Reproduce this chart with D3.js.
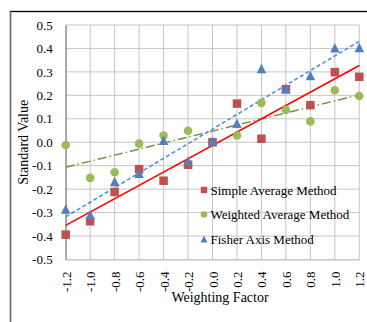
<!DOCTYPE html>
<html>
<head>
<meta charset="utf-8">
<script src="https://cdn.jsdelivr.net/npm/d3@7/dist/d3.min.js"></script>
<style>
  html, body { margin: 0; padding: 0; background: #fff; }
  svg { display: block; }
  text { font-family: "Liberation Serif", "DejaVu Serif", serif; fill: #000; }
</style>
</head>
<body>
<svg id="chart" width="367" height="322"></svg>
<script>
// Weighting factors on the x axis
const weightingFactors = [-1.2, -1.0, -0.8, -0.6, -0.4, -0.2, 0.0, 0.2, 0.4, 0.6, 0.8, 1.0, 1.2];

// Standard values for each method
const simpleAverage   = [-0.394, -0.337, -0.212, -0.115, -0.164, -0.096, 0.000, 0.165, 0.015, 0.226, 0.158, 0.299, 0.279];
const weightedAverage = [-0.012, -0.152, -0.128, -0.006, 0.029, 0.049, 0.000, 0.029, 0.168, 0.138, 0.089, 0.222, 0.197];
const fisherAxis      = [-0.287, -0.311, -0.169, -0.134, 0.006, -0.082, 0.003, 0.079, 0.313, 0.226, 0.283, 0.401, 0.402];

// Axis ticks
const xTicks = [-1.2, -1.0, -0.8, -0.6, -0.4, -0.2, 0.0, 0.2, 0.4, 0.6, 0.8, 1.0, 1.2];
const yTicks = [-0.5, -0.4, -0.3, -0.2, -0.1, 0.0, 0.1, 0.2, 0.3, 0.4, 0.5];

const seriesNames = ["Simple Average Method", "Weighted Average Method", "Fisher Axis Method"];

const svg = d3.select("#chart");
const serif = '"Liberation Serif", "DejaVu Serif", serif';

// Chart area frame
svg.append("rect")
  .attr("x", 10.5).attr("y", 11.5)
  .attr("width", 400).attr("height", 400)
  .attr("fill", "none").attr("stroke", "#000").attr("stroke-width", 1.3);
svg.append("line")
  .attr("x1", 10.5).attr("x2", 10.5).attr("y1", 11.5).attr("y2", 322)
  .attr("stroke", "#6b6b6b").attr("stroke-width", 1.3);

const plot = { left: 65.7, right: 359.3, top: 25, bottom: 259.5 };

const x = d3.scaleLinear().domain([-1.2, 1.2]).range([plot.left, plot.right]);
const y = d3.scaleLinear().domain([-0.5, 0.5]).range([plot.bottom, plot.top]);

const fmt = d => (d < 0 ? "-" : "") + Math.abs(d).toFixed(1);

// Gridlines
const grid = svg.append("g");
grid.selectAll(".hg").data(yTicks).join("line")
  .attr("x1", plot.left).attr("x2", plot.right)
  .attr("y1", d => y(d)).attr("y2", d => y(d))
  .attr("stroke", "#c6c6c6").attr("stroke-width", 1);
grid.selectAll(".vg").data(xTicks).join("line")
  .attr("x1", d => x(d)).attr("x2", d => x(d))
  .attr("y1", plot.top).attr("y2", plot.bottom)
  .attr("stroke", "#c6c6c6").attr("stroke-width", 1);

// Y axis
const yAxis = svg.append("g")
  .attr("transform", `translate(${plot.left},0)`)
  .call(d3.axisLeft(y).tickValues(yTicks).tickFormat(fmt).tickSize(0).tickPadding(13));
yAxis.select(".domain").attr("stroke", "#8c8c8c").attr("stroke-width", 1.2);
yAxis.selectAll("text")
  .style("font-family", serif)
  .style("font-size", "13px").attr("fill", "#000");

// X axis, labels rotated
const xAxis = svg.append("g")
  .attr("transform", `translate(0,${plot.bottom})`)
  .call(d3.axisBottom(x).tickValues(xTicks).tickFormat(fmt).tickSize(0));
xAxis.select(".domain").attr("stroke", "#c6c6c6").attr("stroke-width", 1);
xAxis.selectAll("text")
  .style("font-family", serif)
  .style("font-size", "13px").attr("fill", "#000")
  .attr("text-anchor", "end")
  .attr("dy", "0.35em")
  .attr("x", -12).attr("y", 0)
  .attr("transform", "rotate(-90)");

// Axis titles
svg.append("text")
  .attr("x", 220).attr("y", 302)
  .attr("text-anchor", "middle")
  .style("font-size", "14px")
  .text("Weighting Factor");
svg.append("text")
  .attr("transform", `translate(28,${(plot.top + plot.bottom) / 2}) rotate(-90)`)
  .attr("text-anchor", "middle")
  .style("font-size", "14px")
  .text("Standard Value");

// Least-squares trend line
function trend(xs, ys) {
  const n = xs.length;
  const mx = d3.mean(xs), my = d3.mean(ys);
  let sxy = 0, sxx = 0;
  for (let i = 0; i < n; i++) { sxy += (xs[i] - mx) * (ys[i] - my); sxx += (xs[i] - mx) ** 2; }
  const b = sxy / sxx, a = my - b * mx;
  const x0 = d3.min(xs), x1 = d3.max(xs);
  return [[x0, a + b * x0], [x1, a + b * x1]];
}
const line = d3.line().x(d => x(d[0])).y(d => y(d[1]));

const lines = svg.append("g");
lines.append("path").attr("d", line(trend(weightingFactors, weightedAverage)))
  .attr("fill", "none").attr("stroke", "#76923c").attr("stroke-width", 1.5)
  .attr("stroke-dasharray", "9,3,1.5,3");
lines.append("path").attr("d", line(trend(weightingFactors, fisherAxis)))
  .attr("fill", "none").attr("stroke", "#4f8fdc").attr("stroke-width", 1.6)
  .attr("stroke-dasharray", "4,2.5");
lines.append("path").attr("d", line(trend(weightingFactors, simpleAverage)))
  .attr("fill", "none").attr("stroke", "#ff0000").attr("stroke-width", 1.6);

// Markers
const sq = 8.5;
const triPath = (cx, cy, s) => `M${cx},${cy - s * 0.55}L${cx + s / 2},${cy + s * 0.45}L${cx - s / 2},${cy + s * 0.45}Z`;
const marks = svg.append("g");

marks.selectAll(".wc").data(weightingFactors).join("circle")
  .attr("cx", d => x(d)).attr("cy", (d, i) => y(weightedAverage[i]))
  .attr("r", 4.3).attr("fill", "#9bbb59");

marks.selectAll(".sa").data(weightingFactors).join("rect")
  .attr("x", d => x(d) - sq / 2).attr("y", (d, i) => y(simpleAverage[i]) - sq / 2)
  .attr("width", sq).attr("height", sq).attr("fill", "#c0504d");

marks.selectAll(".fa").data(weightingFactors).join("path")
  .attr("d", (d, i) => triPath(x(d), y(fisherAxis[i]), 9.5))
  .attr("fill", "#4f81bd");

// Legend
const legend = svg.append("g").attr("transform", "translate(204,190)");
const rowGap = 24.5;
seriesNames.forEach((name, i) => {
  const g = legend.append("g").attr("transform", `translate(0,${i * rowGap})`);
  if (i === 0) g.append("rect").attr("x", -3.2).attr("y", -3.2).attr("width", 6.4).attr("height", 6.4).attr("fill", "#c0504d");
  if (i === 1) g.append("circle").attr("r", 3.3).attr("fill", "#9bbb59");
  if (i === 2) g.append("path").attr("d", triPath(0, 0.3, 7)).attr("fill", "#4f81bd");
  g.append("text").attr("x", 6.5).attr("dy", "0.35em").style("font-size", "13px").text(name);
});
</script>
</body>
</html>
